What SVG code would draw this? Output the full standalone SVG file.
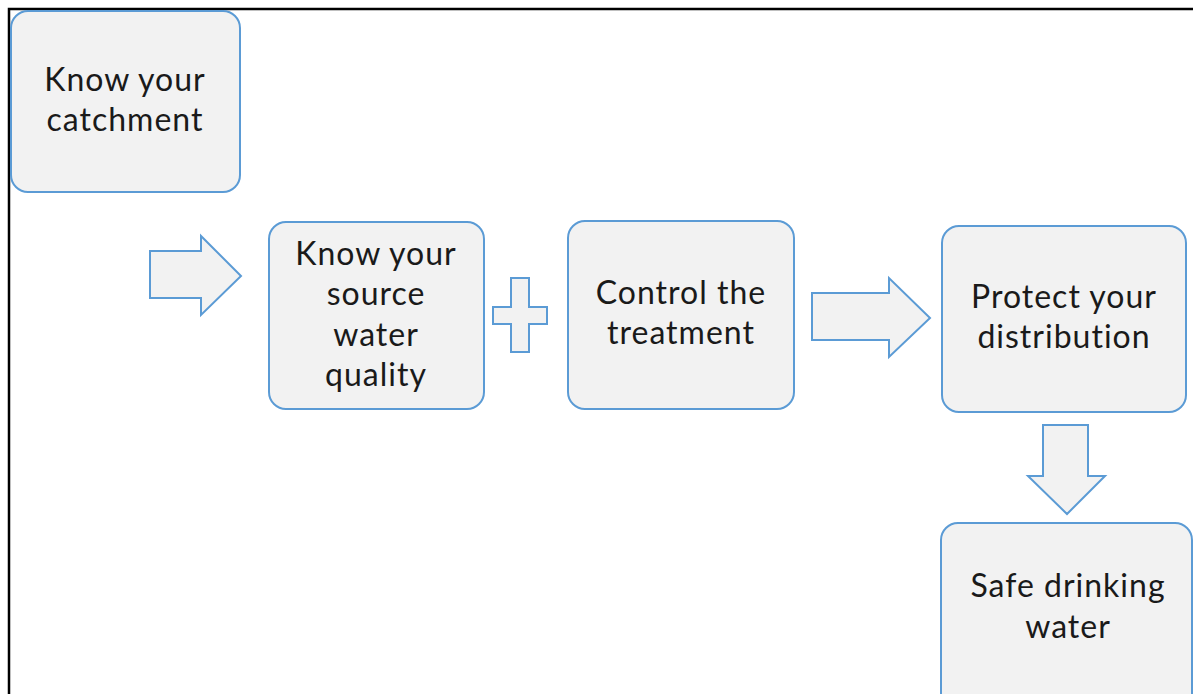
<svg xmlns="http://www.w3.org/2000/svg" width="1193" height="694" viewBox="0 0 1193 694">
<style>
.box{fill:#F2F2F2;stroke:#5B9BD5;stroke-width:2}
.arr{fill:#F2F2F2;stroke:#5B9BD5;stroke-width:2;stroke-linejoin:miter}
text{font-family:Lato,"Open Sans","Liberation Sans",sans-serif;font-size:32px;letter-spacing:1px;fill:#1a1a1a;text-anchor:middle}
</style>
<rect width="1193" height="694" fill="#fff"/>
<g id="frame"><path d="M9,694 V9 H1193" fill="none" stroke="#000" stroke-width="2.5"/></g>
<g id="connectors">
<polygon class="arr" points="150,251 201,251 201,236 241,276 201,315 201,298 150,298"/>
<polygon class="arr" points="511,278 529,278 529,307 547,307 547,324 529,324 529,352 511,352 511,324 493,324 493,307 511,307"/>
<polygon class="arr" points="812,293 889,293 889,278 930,318 889,357 889,340 812,340"/>
<polygon class="arr" points="1043,425 1088,425 1088,476 1105,476 1067,514 1028,476 1043,476"/>
</g>
<g id="n1"><rect class="box" x="11" y="11" width="229" height="181" rx="17"/><text x="125" y="91">Know your</text><text x="125" y="131">catchment</text></g>
<g id="n2"><rect class="box" x="269" y="222" width="215" height="187" rx="17"/><text x="376" y="265">Know your</text><text x="376" y="305">source</text><text x="376" y="346">water</text><text x="376" y="386">quality</text></g>
<g id="n3"><rect class="box" x="568" y="221" width="226" height="188" rx="17"/><text x="681" y="304">Control the</text><text x="681" y="344">treatment</text></g>
<g id="n4"><rect class="box" x="942" y="226" width="244" height="186" rx="17"/><text x="1064" y="308">Protect your</text><text x="1064" y="348">distribution</text></g>
<g id="n5"><rect class="box" x="941" y="523" width="251" height="190" rx="17"/><text x="1068" y="597">Safe drinking</text><text x="1068" y="638">water</text></g>
</svg>
